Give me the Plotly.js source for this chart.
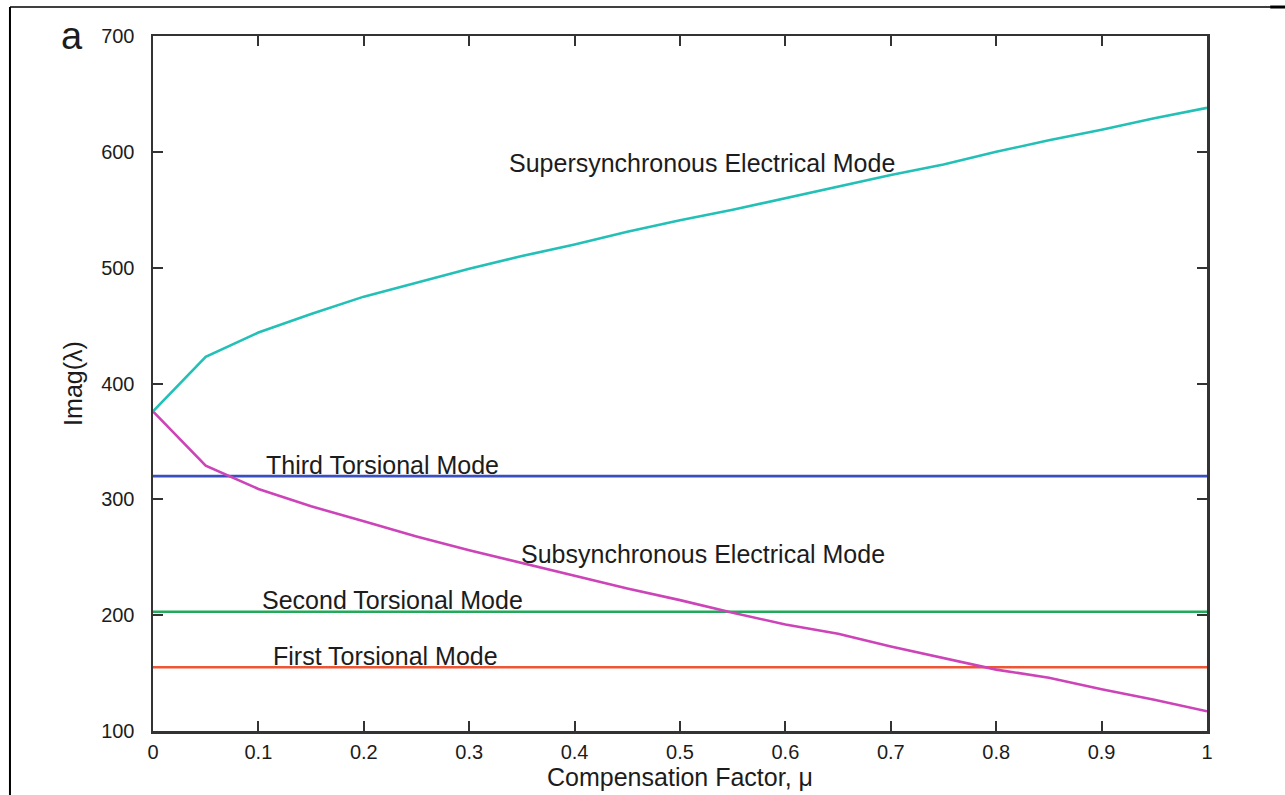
<!DOCTYPE html>
<html>
<head>
<meta charset="utf-8">
<script src="https://cdn.plot.ly/plotly-3.0.1.min.js"></script>
<style>
  html, body { margin: 0; padding: 0; background: #ffffff; }
  #chart { width: 1285px; height: 795px; }
</style>
</head>
<body>
<div id="chart"></div>
<script>
// Compensation factor (series capacitor level)
const mu = [0, 0.05, 0.1, 0.15, 0.2, 0.25, 0.3, 0.35, 0.4, 0.45, 0.5,
            0.55, 0.6, 0.65, 0.7, 0.75, 0.8, 0.85, 0.9, 0.95, 1.0];

// Imaginary part of the eigenvalues (rad/s)
const superSync = [376, 423, 444, 460, 475, 487, 499, 510, 520, 531, 541,
                   550, 560, 570, 580, 589, 600, 610, 619, 629, 638];
const subSync   = [376, 329, 309, 294, 281, 268, 256, 245, 234, 223, 213,
                   202, 192, 184, 173, 163, 153, 146, 136, 127, 117];

// Torsional modes do not move with compensation
const torsionalMu = [0, 1];
const thirdTorsional  = [320, 320];
const secondTorsional = [203, 203];
const firstTorsional  = [155, 155];

// Curve labels and where they sit in data units
const labelText = ['Supersynchronous Electrical Mode', 'Third Torsional Mode',
                   'Subsynchronous Electrical Mode', 'Second Torsional Mode',
                   'First Torsional Mode'];
const labelX = [0.521, 0.218, 0.522, 0.227, 0.221];
const labelY = [590, 329.5, 253, 213, 165];

const xTicks = [0, 0.1, 0.2, 0.3, 0.4, 0.5, 0.6, 0.7, 0.8, 0.9, 1];
const xTickText = ['0', '0.1', '0.2', '0.3', '0.4', '0.5', '0.6', '0.7', '0.8', '0.9', '1'];
const yTicks = [100, 200, 300, 400, 500, 600, 700];

const FONT = 'Liberation Sans, Arial, sans-serif';
const INK = '#1c1c1c';

const line = (x, y, color) => ({
  x: x, y: y, type: 'scatter', mode: 'lines',
  line: { color: color, width: 2.6 }, hoverinfo: 'x+y', showlegend: false
});

const data = [
  line(torsionalMu, firstTorsional, '#ee5533'),
  line(torsionalMu, secondTorsional, '#22aa5a'),
  line(torsionalMu, thirdTorsional, '#3a4fbf'),
  line(mu, subSync, '#cc44b8'),
  line(mu, superSync, '#22c0b6')
];

const annotations = labelText.map((t, i) => ({
  x: labelX[i], y: labelY[i], xref: 'x', yref: 'y',
  text: t, showarrow: false, xanchor: 'center', yanchor: 'middle',
  font: { family: FONT, size: 25, color: INK }
}));

// Panel letter
annotations.push({
  x: -0.077, y: 1.0, xref: 'paper', yref: 'paper',
  text: 'a', showarrow: false, xanchor: 'center', yanchor: 'middle',
  font: { family: FONT, size: 38, color: INK }
});

const layout = {
  width: 1285, height: 795,
  margin: { l: 153, r: 78, t: 36, b: 64 },
  paper_bgcolor: '#ffffff', plot_bgcolor: '#ffffff',
  showlegend: false,
  font: { family: FONT, color: INK },
  xaxis: {
    range: [0, 1], tickvals: xTicks, ticktext: xTickText,
    ticks: 'inside', ticklen: 10, tickwidth: 2, tickcolor: '#333',
    showline: true, linecolor: '#333', linewidth: 2.5, mirror: 'ticks',
    showgrid: false, zeroline: false, ticklabelstandoff: 1,
    tickfont: { family: FONT, size: 20, color: INK },
    title: { text: 'Compensation Factor, \u03bc', standoff: 6,
             font: { family: FONT, size: 25, color: INK } },
    automargin: false
  },
  yaxis: {
    range: [100, 700], tickvals: yTicks,
    ticks: 'inside', ticklen: 10, tickwidth: 2, tickcolor: '#333',
    showline: true, linecolor: '#333', linewidth: 2.5, mirror: 'ticks',
    showgrid: false, zeroline: false, ticklabelstandoff: 12,
    tickfont: { family: FONT, size: 20, color: INK },
    title: { text: 'Imag(\u03bb)', standoff: 12,
             font: { family: FONT, size: 25, color: INK } },
    automargin: false
  },
  annotations: annotations,
  shapes: [
    // outer figure frame (left and top edges)
    { type: 'line', xref: 'paper', yref: 'paper',
      x0: -0.1357, x1: 1.08, y0: 1.0417, y1: 1.0417,
      line: { color: '#000', width: 1.5 } },
    { type: 'line', xref: 'paper', yref: 'paper',
      x0: -0.1357, x1: -0.1357, y0: 1.0417, y1: -0.1,
      line: { color: '#000', width: 2 } },
    { type: 'line', xref: 'paper', yref: 'paper',
      x0: 1.06, x1: 1.08, y0: 1.0417, y1: 1.0417,
      line: { color: '#000', width: 3 } }
  ]
};

Plotly.newPlot('chart', data, layout, { displayModeBar: false, staticPlot: true });
</script>
</body>
</html>
